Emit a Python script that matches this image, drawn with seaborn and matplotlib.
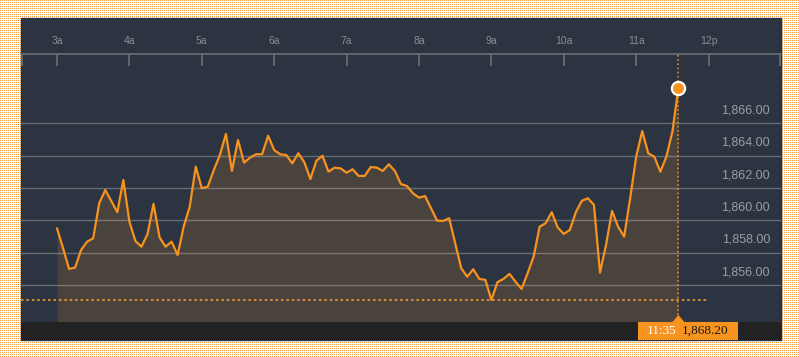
import numpy as np
import pandas as pd
import seaborn as sns
import matplotlib
matplotlib.use("Agg")
import matplotlib.pyplot as plt
from matplotlib.patches import Rectangle, Polygon
from matplotlib import transforms

# 5-minute ticks from 3:00 to 11:35
minutes = np.arange(0, 520, 5)
prices = [
    1859.52, 1858.30, 1857.01, 1857.09, 1858.18, 1858.69, 1858.90, 1861.06, 1861.88, 1861.20,
    1860.51, 1862.50, 1859.93, 1858.73, 1858.38, 1859.15, 1861.02, 1858.96, 1858.38, 1858.69,
    1857.87, 1859.62, 1860.85, 1863.32, 1861.99, 1862.09, 1863.12, 1864.04, 1865.34, 1863.06,
    1864.97, 1863.57, 1863.88, 1864.09, 1864.09, 1865.23, 1864.35, 1864.09, 1864.04, 1863.53,
    1864.15, 1863.59, 1862.56, 1863.69, 1864.00, 1863.01, 1863.26, 1863.22, 1862.95, 1863.16,
    1862.75, 1862.75, 1863.30, 1863.26, 1863.06, 1863.47, 1863.06, 1862.25, 1862.13, 1861.68,
    1861.41, 1861.51, 1860.75, 1859.99, 1859.97, 1860.14, 1858.59, 1857.05, 1856.53, 1856.99,
    1856.39, 1856.33, 1855.09, 1856.19, 1856.39, 1856.70, 1856.22, 1855.77, 1856.74, 1857.77,
    1859.62, 1859.83, 1860.51, 1859.56, 1859.17, 1859.41, 1860.52, 1861.22, 1861.37, 1860.96,
    1856.78, 1858.49, 1860.59, 1859.62, 1859.00, 1861.37, 1863.94, 1865.52, 1864.15, 1863.94,
    1863.01, 1863.94, 1865.48, 1868.20,
]
hour_ticks = [3, 4, 5, 6, 7, 8, 9, 10, 11, 12]
hour_labels = ["3a", "4a", "5a", "6a", "7a", "8a", "9a", "10a", "11a", "12p"]
price_ticks = [1856, 1858, 1860, 1862, 1864, 1866]
last_time = "11:35"

df = pd.DataFrame({"hour": 3 + minutes / 60, "price": prices})

sns.set_style("dark")
plt.rcParams["font.family"] = ["Liberation Sans", "DejaVu Sans"]

ORANGE = "#f7931e"
BG = "#2b3440"
FILL = "#4a423d"
GRID = "#6b6f75"

W, H = 799, 357
fig = plt.figure(figsize=(W / 100, H / 100), dpi=100)

# dotted orange page background
pat = np.ones((H, W, 3))
pat[::2, ::2] = np.array([243, 154, 58]) / 255
fig.figimage(pat, 0, 0, zorder=-10)


def frac(x0, y0, x1, y1):
    return [x0 / W, 1 - y1 / H, (x1 - x0) / W, (y1 - y0) / H]


fig.patches.append(Rectangle((21 / W, 1 - 340 / H), 760 / W, 322 / H,
                             transform=fig.transFigure, color=BG, zorder=-5))

ax = fig.add_axes(frac(21, 54, 781, 322))
ax.set_facecolor(BG)
x0, x1 = 2.503, 13.0
y0, y1 = 1853.73, 1870.28
ax.set_xlim(x0, x1)
ax.set_ylim(y0, y1)

ax.fill_between(df["hour"], df["price"], y0, color=FILL, lw=0, zorder=1)
sns.lineplot(data=df, x="hour", y="price", color=ORANGE, lw=1.6, ax=ax, zorder=3)

# horizontal grid
ax.set_yticks(price_ticks)
ax.tick_params(axis="y", left=False, labelleft=False, right=False, labelright=False)
ax.set_axisbelow("line")
ax.yaxis.grid(True, color="white", alpha=0.28, lw=1)
ax.xaxis.grid(False)
lab_tr = transforms.offset_copy(ax.get_yaxis_transform(), fig=fig, x=-11, y=13, units="dots")
for p in price_ticks:
    ax.text(1, p, f"{p:,.2f}", transform=lab_tr, ha="right", va="center",
            fontsize=9, color="#9a9ea4")

# time axis on top
ax.xaxis.tick_top()
ax.set_xticks(hour_ticks)
ax.set_xticklabels(hour_labels)
ax.set_xticks([x0 + 0.01, x1 - 0.01], minor=True)
ax.tick_params(axis="x", which="both", direction="in", length=8.6, width=1.2,
               color=GRID, labelcolor="#8a8e94", labelsize=7.5, pad=5.5, top=True, bottom=False)
ax.set_xlabel("")
ax.set_ylabel("")
for s in ["left", "right", "bottom"]:
    ax.spines[s].set_visible(False)
ax.spines["top"].set_color(GRID)
ax.spines["top"].set_linewidth(1.2)

# low line and current marker
last_x = df["hour"].iloc[-1]
last_y = df["price"].iloc[-1]
ax.hlines(min(prices), x0, 12.0, colors="#d08c35", lw=1.5, linestyles=(0, (1.2, 1.4)), zorder=2)
ax.axvline(last_x, ymin=7 / 268, ymax=1, color="#e08a1e", lw=1.2, ls=(0, (1, 1.5)), zorder=2)
ax.plot([last_x], [last_y], "o", ms=9.5, mfc=ORANGE, mec="white", mew=1.6, zorder=5, clip_on=False)

# bottom bar with value flag
axb = fig.add_axes(frac(21, 322, 781, 340))
axb.set_facecolor("#222222")
axb.set_xlim(x0, x1)
axb.set_ylim(0, 1)
axb.set_xticks([])
axb.set_yticks([])
for s in axb.spines.values():
    s.set_visible(False)
px = 1 / 72.4
axb.add_patch(Rectangle((last_x - 40 * px, 0), 100 * px, 1, color=ORANGE, lw=0))
axb.add_patch(Polygon([(last_x - 6 * px, 1), (last_x, 1 + 7 / 18), (last_x + 6 * px, 1)],
                      closed=True, color=ORANGE, lw=0, clip_on=False))
axb.text(last_x - 17 * px, 0.5, last_time, color="white", ha="center", va="center",
         fontsize=9.5, family=["Liberation Serif", "DejaVu Serif"])
axb.text(last_x + 27 * px, 0.5, f"{last_y:,.2f}", color="#1a1a1a", ha="center", va="center",
         fontsize=9.5, family=["Liberation Serif", "DejaVu Serif"])

fig.savefig("out.png", dpi=100)
